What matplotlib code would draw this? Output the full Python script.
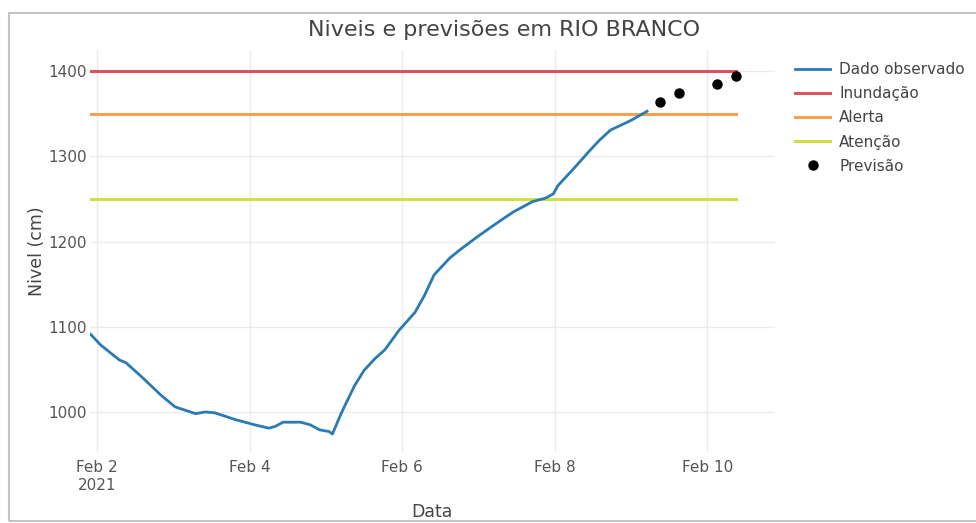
import numpy as np
import pandas as pd
import matplotlib
matplotlib.use("Agg")
import matplotlib.pyplot as plt
import matplotlib.dates as mdates
from matplotlib.patches import Rectangle

# observed river level (cm)
obs_time = [
    "2021-02-01 22:00", "2021-02-02 01:00", "2021-02-02 07:00", "2021-02-02 09:00",
    "2021-02-02 13:30", "2021-02-02 20:00", "2021-02-03 00:30", "2021-02-03 07:00",
    "2021-02-03 10:00", "2021-02-03 13:00", "2021-02-03 19:30", "2021-02-04 01:30",
    "2021-02-04 06:00", "2021-02-04 08:00", "2021-02-04 10:30", "2021-02-04 16:00",
    "2021-02-04 19:00", "2021-02-04 22:00", "2021-02-05 01:00", "2021-02-05 02:00",
    "2021-02-05 04:30", "2021-02-05 06:00", "2021-02-05 09:00", "2021-02-05 12:00",
    "2021-02-05 15:30", "2021-02-05 18:30", "2021-02-05 23:00", "2021-02-06 04:00",
    "2021-02-06 07:00", "2021-02-06 10:00", "2021-02-06 15:00", "2021-02-06 18:00",
    "2021-02-06 23:00", "2021-02-07 03:30", "2021-02-07 07:00", "2021-02-07 11:00",
    "2021-02-07 17:00", "2021-02-07 21:00", "2021-02-07 23:30", "2021-02-08 01:00",
    "2021-02-08 05:30", "2021-02-08 11:00", "2021-02-08 14:00", "2021-02-08 17:30",
    "2021-02-08 23:45", "2021-02-09 05:00",
]
obs_level = [
    1091, 1079, 1061, 1058,
    1043, 1020, 1006, 998,
    1000, 999, 991, 985,
    981, 983, 988, 988,
    985, 979, 977, 974,
    996, 1008, 1031, 1049,
    1063, 1073, 1096, 1117,
    1137, 1161, 1181, 1190,
    1204, 1216, 1225, 1235,
    1247, 1251, 1256, 1266,
    1284, 1307, 1319, 1331,
    1342, 1353,
]

# forecast points
prev_time = ["2021-02-09 09:00", "2021-02-09 15:00", "2021-02-10 03:00", "2021-02-10 09:00"]
prev_level = [1364, 1375, 1385, 1395]

# warning thresholds
limites = ["Inundação", "Alerta", "Atenção"]
limite_valor = [1400, 1350, 1250]
limite_cor = ["#d9545e", "#f5a052", "#d2de48"]

x_ticks = ["2021-02-02", "2021-02-04", "2021-02-06", "2021-02-08", "2021-02-10"]
x_tick_labels = ["Feb 2\n2021", "Feb 4", "Feb 6", "Feb 8", "Feb 10"]
y_ticks = [1000, 1100, 1200, 1300, 1400]

t_obs = pd.to_datetime(obs_time)
t_prev = pd.to_datetime(prev_time)

plt.rcParams["font.family"] = ["DejaVu Sans"]
fig = plt.figure(figsize=(9.76, 5.23), dpi=100)
ax = fig.add_axes([90 / 976, 1 - 452 / 523, (775 - 90) / 976, (452 - 50) / 523])

ax.plot(t_obs, obs_level, color="#2a7ab3", lw=2.0, label="Dado observado", zorder=3)
for nome, valor, cor in zip(limites, limite_valor, limite_cor):
    ax.plot([t_obs[0], t_prev[-1]], [valor, valor], color=cor, lw=2.2, label=nome, zorder=2)
ax.plot(t_prev, prev_level, "o", color="black", ms=6.5, label="Previsão", zorder=4)

ax.set_xlim(pd.Timestamp("2021-02-01 21:45"), pd.Timestamp("2021-02-10 21:15"))
ax.set_ylim(953, 1425)
ax.set_xticks(pd.to_datetime(x_ticks))
ax.set_xticklabels(x_tick_labels)
ax.set_yticks(y_ticks)
ax.tick_params(length=0, labelsize=11, colors="#555555")
ax.tick_params(axis="x", pad=6)
ax.tick_params(axis="y", pad=2)
ax.grid(True, color="#ebebeb", lw=1)
ax.set_axisbelow(True)
for s in ax.spines.values():
    s.set_visible(False)

ax.set_ylabel("Nivel (cm)", fontsize=12.5, color="#444444", labelpad=2)
fig.text(432 / 976, 1 - 512 / 523, "Data", fontsize=12.5, color="#444444",
         ha="center", va="center")
fig.text(504 / 976, 1 - 30 / 523, "Niveis e previsões em RIO BRANCO", fontsize=16,
         color="#444444", ha="center", va="center")

fig.legend(loc="upper left", bbox_to_anchor=(795 / 976, 1 - 62 / 523), frameon=False,
           fontsize=11, handlelength=2.3, handletextpad=0.6, labelspacing=0.6,
           borderpad=0, borderaxespad=0, labelcolor="#444444")

# outer frame
fig.patches.append(Rectangle((9 / 976, 1 - 521 / 523), 1.0, (521 - 13) / 523,
                             transform=fig.transFigure, fill=False,
                             edgecolor="#c4c4c4", lw=1.5))

fig.savefig("out.png", dpi=100)
